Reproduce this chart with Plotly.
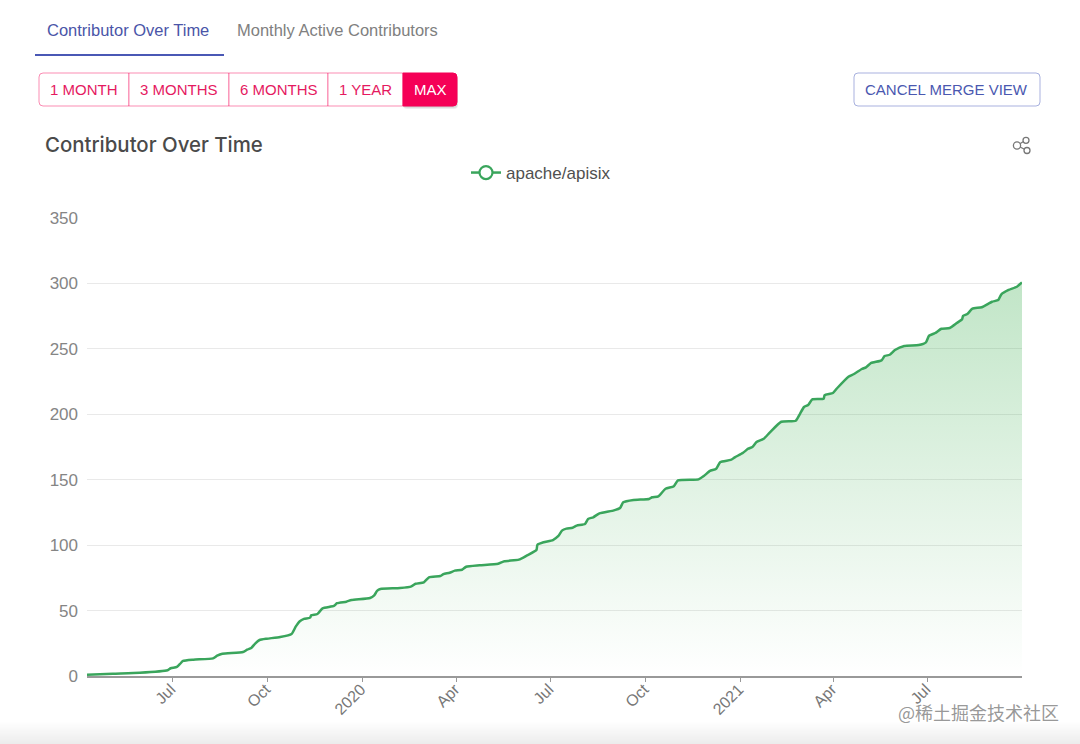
import pandas as pd
import plotly.graph_objects as go

# days since the first point of the series
start_date = "2019-04-09"
days = [0, 25, 51, 78, 81, 87, 90, 93, 103, 122, 126, 131, 151, 155, 159, 163, 167, 174, 187, 198,
        202, 206, 210, 216, 217, 223, 228, 239, 242, 251, 256, 274, 278, 281, 284, 303, 314, 318,
        326, 331, 342, 345, 351, 356, 363, 367, 380, 398, 404, 418, 426, 435, 436, 442, 451, 456,
        460, 464, 470, 474, 482, 485, 490, 496, 510, 516, 519, 529, 544, 547, 553, 560, 568, 572,
        592, 597, 603, 609, 613, 623, 627, 635, 640, 644, 648, 655, 661, 672, 686, 690, 694, 698,
        702, 713, 714, 722, 726, 737, 742, 750, 754, 759, 769, 772, 777, 782, 791, 805, 812, 815,
        821, 827, 835, 842, 847, 848, 852, 857, 866, 876, 882, 885, 892, 900, 905]
contributors = [1, 1.8, 2.5, 4.4, 5.9, 6.9, 9.2, 11.5, 12.5, 13.5, 15.5, 17, 18.3, 20.1, 21.4, 25, 27.5,
                28.5, 29.8, 32.1, 37.7, 41.8, 43.6, 44.6, 46.4, 47.4, 51.7, 53.5, 55.6, 56.8, 58.1,
                59.6, 61.7, 65.2, 66.5, 67.2, 68.5, 70.5, 71.6, 75.4, 76.4, 77.9, 78.9, 80.5, 81.2,
                83.5, 84.6, 85.8, 87.7, 88.9, 92.2, 96.3, 100.3, 102.2, 103.9, 106.8, 111.3, 112.6,
                113.3, 114.9, 116.2, 120, 121.3, 124.3, 126.6, 128.4, 132.7, 134.5, 135.3, 136.6,
                137.3, 143.1, 145, 149.5, 150.3, 152.8, 156.7, 158.4, 163.5, 165.1, 167.1, 170.6,
                173.7, 175, 178.8, 181.3, 186.2, 194.3, 195.1, 200.2, 205.6, 207.1, 211.4, 211.9,
                214.7, 216.3, 219.9, 228.7, 230.6, 234.6, 235.9, 239.2, 241.2, 244.5, 245.5, 249.1,
                252.2, 252.9, 255, 260, 262.1, 265.4, 265.9, 269.8, 272.6, 275.3, 276.6, 280.7,
                281.8, 286, 287.3, 291.7, 295, 297.5, 300.8]

tick_dates = ["2019-07-01", "2019-10-01", "2020-01-01", "2020-04-01", "2020-07-01",
              "2020-10-01", "2021-01-01", "2021-04-01", "2021-07-01"]
tick_labels = ["Jul", "Oct", "2020", "Apr", "Jul", "Oct", "2021", "Apr", "Jul"]
y_ticks = [0, 50, 100, 150, 200, 250, 300, 350]

range_buttons = ["1 MONTH", "3 MONTHS", "6 MONTHS", "1 YEAR", "MAX"]
button_edges = [39, 129, 229, 328, 403, 457]

FONT = "Liberation Sans, Arial, sans-serif"
GREEN = "#3aa55c"
PINK = "#f50057"
INDIGO = "#3f51b5"

# plot area in page pixels
L, R, T, B = 87, 1022, 218, 676


def px(x):
    return (x - L) / (R - L)


def py(y):
    return (B - y) / (B - T)


def rect(x0, y0, x1, y1, **kw):
    return dict(type="rect", xref="paper", yref="paper", x0=px(x0), x1=px(x1),
                y0=py(y1), y1=py(y0), **kw)


def round_path(x0, y0, x1, y1, r=4, left=True, right=True):
    rl = r if left else 0
    rr = r if right else 0
    pts = [
        f"M {px(x0 + rl)} {py(y0)}", f"L {px(x1 - rr)} {py(y0)}",
        f"Q {px(x1)} {py(y0)} {px(x1)} {py(y0 + rr)}", f"L {px(x1)} {py(y1 - rr)}",
        f"Q {px(x1)} {py(y1)} {px(x1 - rr)} {py(y1)}", f"L {px(x0 + rl)} {py(y1)}",
        f"Q {px(x0)} {py(y1)} {px(x0)} {py(y1 - rl)}", f"L {px(x0)} {py(y0 + rl)}",
        f"Q {px(x0)} {py(y0)} {px(x0 + rl)} {py(y0)} Z",
    ]
    return " ".join(pts)


def label(text, x, y, size, color, anchor="left", weight=None, family=FONT):
    font = dict(family=family, size=size, color=color)
    if weight:
        font["weight"] = weight
    return dict(text=text, xref="paper", yref="paper", x=px(x), y=py(y), showarrow=False,
                xanchor=anchor, yanchor="middle", font=font)


dates = pd.Timestamp(start_date) + pd.to_timedelta(days, unit="D")

fig = go.Figure()
fig.add_trace(go.Scatter(
    x=dates, y=contributors, mode="lines", showlegend=False, hoverinfo="skip",
    line=dict(color=GREEN, width=2.5, shape="spline", smoothing=0.5),
    fill="tozeroy",
    fillgradient=dict(type="vertical", start=0, stop=300,
                      colorscale=[[0, "rgba(50,170,70,0)"], [1, "rgba(50,170,70,0.3)"]]),
))
# legend entry only, the series itself has no markers
fig.add_trace(go.Scatter(
    x=[None], y=[None], mode="lines+markers", name="apache/apisix",
    line=dict(color=GREEN, width=2.5),
    marker=dict(symbol="circle", size=13, color="white", line=dict(color=GREEN, width=2.2)),
))

shapes = []
annotations = []

# tabs
annotations.append(label("Contributor Over Time", 45, 30, 16.5, "#4a55a8"))
annotations.append(label("Monthly Active Contributors", 235, 30, 16.5, "#808080"))
shapes.append(rect(35, 54, 224, 56, fillcolor="#4a58b5", line_width=0, layer="above"))

# soft shadow under the active button
for i in range(3):
    shapes.append(dict(type="path", xref="paper", yref="paper",
                       path=round_path(403, 76, 457 + 0.5 * i, 107 + i),
                       fillcolor="rgba(0,0,0,0.07)", line_width=0))

# range buttons
for i, name in enumerate(range_buttons):
    x0, x1 = button_edges[i], button_edges[i + 1]
    active = name == "MAX"
    shapes.append(dict(type="path", xref="paper", yref="paper",
                       path=round_path(x0, 73, x1, 106, left=i == 0, right=i == 4),
                       fillcolor=PINK if active else "white",
                       line=dict(color=PINK if active else "rgba(245,0,87,0.45)", width=1)))
    annotations.append(label(name, (x0 + x1) / 2, 89, 15, "white" if active else "#e5195f", "center"))

# merge view button
shapes.append(dict(type="path", xref="paper", yref="paper", path=round_path(854, 73, 1040, 106),
                   fillcolor="white", line=dict(color="rgba(63,81,181,0.45)", width=1)))
annotations.append(label("CANCEL MERGE VIEW", 946.5, 89, 15, "#4a58b0", "center"))

annotations.append(label("Contributor Over Time", 42.5, 145, 20.4, "#4a4a4a", weight=500, family="Inter"))

# share icon
for a, b in [((1017, 145.5), (1026, 140)), ((1017, 145.5), (1027, 150.5))]:
    shapes.append(dict(type="line", xref="paper", yref="paper", x0=px(a[0]), y0=py(a[1]),
                       x1=px(b[0]), y1=py(b[1]), line=dict(color="#777777", width=1.3)))
for cx, cy, r in [(1017, 145.5, 3.6), (1026, 140.3, 3), (1027, 150.5, 3)]:
    shapes.append(dict(type="circle", xref="paper", yref="paper", x0=px(cx - r), x1=px(cx + r),
                       y0=py(cy + r), y1=py(cy - r), fillcolor="white",
                       line=dict(color="#777777", width=1.3)))

# grey band along the bottom of the page
for i in range(24):
    grey = 255 - int(i * 19 / 23)
    shapes.append(rect(0, 720 + i, 1080, 721 + i, fillcolor=f"rgb({grey},{grey},{grey})", line_width=0))

annotations.append(label("@稀土掘金技术社区", 895.5, 711.5, 18, "rgba(125,125,125,0.8)",
                         family="Noto Sans CJK SC"))

fig.update_layout(
    width=1080, height=744,
    margin=dict(l=L, r=1080 - R, t=T, b=744 - B),
    paper_bgcolor="white", plot_bgcolor="white",
    font=dict(family=FONT, color="#777777"),
    shapes=shapes, annotations=annotations,
    legend=dict(orientation="h", x=px(541), y=py(173), xanchor="center", yanchor="middle",
                font=dict(family=FONT, size=17, color="#505050"), bgcolor="rgba(0,0,0,0)"),
    xaxis=dict(type="date", range=[dates[0], dates[-1]], tickmode="array", tickvals=tick_dates,
               ticktext=tick_labels, tickangle=-45, ticks="outside", ticklen=4, tickcolor="#999999",
               ticklabelstandoff=-8, ticklabelshift=-2,
               showgrid=False, showline=True, linecolor="#999999", linewidth=1.5, zeroline=False,
               tickfont=dict(size=16, color="#777777")),
    yaxis=dict(range=[0, 350], tickvals=y_ticks, showgrid=True, gridcolor="#e9e9e9", gridwidth=1,
               zeroline=False, showline=False, ticks="", ticklen=0, ticklabelstandoff=8,
               tickfont=dict(size=17, color="#858585")),
)

fig.write_html("out.html", config=dict(displayModeBar=False),
               post_script="document.body.style.margin='0';")
